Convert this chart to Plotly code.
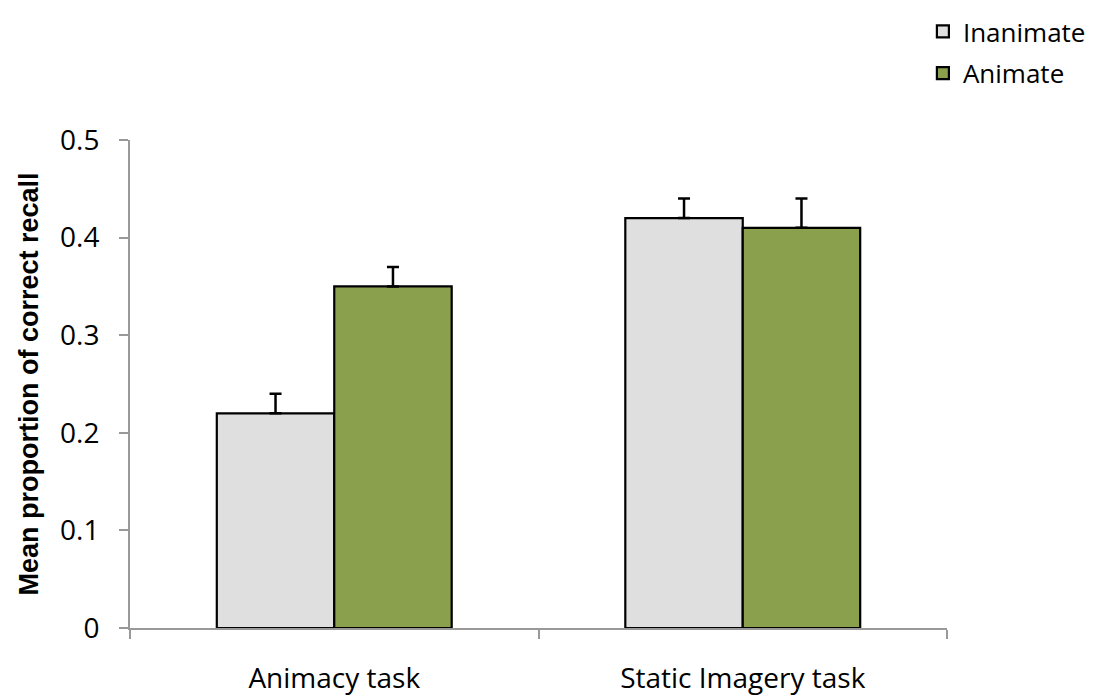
import plotly.graph_objects as go

# 数据
tasks = ['Animacy task', 'Static Imagery task']
inanimate = [0.22, 0.42]
animate = [0.35, 0.41]
inanimate_err = [0.02, 0.02]
animate_err = [0.02, 0.03]
y_ticks = [0, 0.1, 0.2, 0.3, 0.4, 0.5]
y_tick_text = ['0', '0.1', '0.2', '0.3', '0.4', '0.5']

FONT = 'Open Sans, Lato, sans-serif'
TITLE_FONT = 'Liberation Sans, Arial, sans-serif'

fig = go.Figure()

fig.add_trace(go.Bar(
    x=tasks,
    y=inanimate,
    name='Inanimate',
    legendgroup='a',
    marker=dict(color='#dfdfdf', line=dict(color='black', width=2.2)),
    error_y=dict(type='data', symmetric=False, array=inanimate_err,
                 arrayminus=[0, 0], color='black', thickness=2.5, width=6),
))

fig.add_trace(go.Bar(
    x=tasks,
    y=animate,
    name='Animate',
    legendgroup='b',
    marker=dict(color='#8aa04c', line=dict(color='black', width=2.2)),
    error_y=dict(type='data', symmetric=False, array=animate_err,
                 arrayminus=[0, 0], color='black', thickness=2.5, width=6),
))

# 页面 body 自带 8px 边距，所以图比窗口小 8px；关闭图例自动扩展边距
fig.update_layout(
    width=1097,
    height=687,
    barmode='group',
    bargap=0.425,
    bargroupgap=0,
    plot_bgcolor='white',
    paper_bgcolor='white',
    margin=dict(l=122, r=158, t=132, b=67, autoexpand=False),
    font=dict(family=FONT, size=28, color='black'),
    legend=dict(
        x=0.834, y=1.0, xanchor='left', yanchor='top',
        xref='container', yref='container',
        font=dict(size=26, family=FONT),
        bgcolor='rgba(0,0,0,0)',
        traceorder='grouped',
        tracegroupgap=5,
        itemwidth=30,
    ),
    xaxis=dict(
        showline=True, linecolor='#999999', linewidth=2,
        ticks='outside', tickson='boundaries', ticklen=9,
        tickcolor='#999999', tickwidth=2,
        tickfont=dict(size=28, family=FONT),
        ticklabelstandoff=24,
        showgrid=False,
    ),
    yaxis=dict(
        range=[0, 0.5],
        tickvals=y_ticks,
        ticktext=y_tick_text,
        showline=True, linecolor='#999999', linewidth=2,
        ticks='outside', ticklen=9, tickcolor='#999999', tickwidth=2,
        tickfont=dict(size=28, family=FONT),
        ticklabelstandoff=14,
        showgrid=False,
        zeroline=False,
        title=dict(text='<b>Mean proportion of correct recall</b>',
                   font=dict(size=27, family=TITLE_FONT), standoff=14),
    ),
)

fig.write_html('out.html')
